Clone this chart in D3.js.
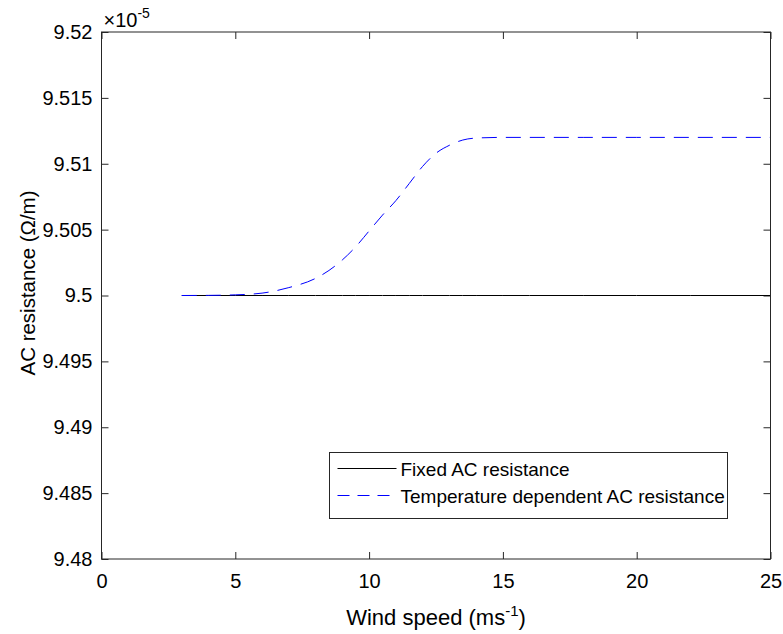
<!DOCTYPE html>
<html>
<head>
<meta charset="UTF-8">
<title></title>
<style>
  body { margin: 0; background: #fff; }
  svg text { font-family: 'Liberation Sans', Arial, Helvetica, sans-serif; fill: #000; }
</style>
</head>
<body>
<div id="container"></div>
<script src="https://d3js.org/d3.v7.min.js"></script>
<script>
// wind speed (m/s)
var windSpeed = [3, 4, 5, 6, 7, 8, 8.5, 9, 9.5, 10, 10.5, 11, 11.5, 12, 12.5, 13, 13.5, 14, 15, 16, 18, 20, 22, 25];
// AC resistance, units of 1e-5 ohm/m
var fixedRes = [9.5, 9.5, 9.5, 9.5, 9.5, 9.5, 9.5, 9.5, 9.5, 9.5, 9.5, 9.5, 9.5, 9.5, 9.5, 9.5, 9.5, 9.5, 9.5, 9.5, 9.5, 9.5, 9.5, 9.5];
var tempRes = [9.5, 9.50001, 9.50005, 9.50018, 9.5006, 9.5013, 9.5019, 9.5027, 9.5037, 9.5049, 9.5061, 9.5072, 9.5085, 9.5098, 9.5108, 9.5114, 9.5118, 9.51195, 9.512, 9.512, 9.512, 9.512, 9.512, 9.512];
var xTicks = [0, 5, 10, 15, 20, 25];
var yTicks = [9.48, 9.485, 9.49, 9.495, 9.5, 9.505, 9.51, 9.515, 9.52];
var legendLabels = ["Fixed AC resistance", "Temperature dependent AC resistance"];

var W = 783, H = 634;
var m = {left: 101.5, right: 12.5, top: 32, bottom: 75};

var svg = d3.select("#container").append("svg")
  .attr("width", W).attr("height", H);

var x = d3.scaleLinear().domain([0, 25]).range([m.left, W - m.right]);
var y = d3.scaleLinear().domain([9.48, 9.52]).range([H - m.bottom, m.top]);

var axisCol = "#262626";
var tickLen = 7;

// bottom / left axes with labels, ticks inward
svg.append("g")
  .attr("transform", "translate(0," + y.range()[0] + ")")
  .call(d3.axisBottom(x).tickValues(xTicks).tickSize(-tickLen).tickPadding(15).tickFormat(d3.format("d")))
  .call(function(g) {
    g.select(".domain").remove();
    g.selectAll("line").attr("stroke", axisCol);
    g.selectAll("text").attr("font-size", 20).attr("fill", "#000");
  });

svg.append("g")
  .attr("transform", "translate(" + x.range()[0] + ",0)")
  .call(d3.axisLeft(y).tickValues(yTicks).tickSize(-tickLen).tickPadding(9).tickFormat(function(d) { return +d.toFixed(3) + ""; }))
  .call(function(g) {
    g.select(".domain").remove();
    g.selectAll("line").attr("stroke", axisCol);
    g.selectAll("text").attr("font-size", 20).attr("fill", "#000");
  });

// mirrored ticks on top and right
svg.append("g")
  .attr("transform", "translate(0," + y.range()[1] + ")")
  .call(d3.axisTop(x).tickValues(xTicks).tickSize(-tickLen).tickFormat(""))
  .call(function(g) { g.select(".domain").remove(); g.selectAll("line").attr("stroke", axisCol); });

svg.append("g")
  .attr("transform", "translate(" + x.range()[1] + ",0)")
  .call(d3.axisRight(y).tickValues(yTicks).tickSize(-tickLen).tickFormat(""))
  .call(function(g) { g.select(".domain").remove(); g.selectAll("line").attr("stroke", axisCol); });

// lines
var line = function(vals) {
  return d3.line().x(function(d, i) { return x(windSpeed[i]); }).y(function(d) { return y(d); }).curve(d3.curveMonotoneX)(vals);
};

svg.append("path")
  .attr("d", line(fixedRes))
  .attr("fill", "none").attr("stroke", "#000").attr("stroke-width", 1);

svg.append("path")
  .attr("d", line(tempRes))
  .attr("fill", "none").attr("stroke", "#0000ff").attr("stroke-width", 1)
  .attr("stroke-dasharray", "15,9");

// box
svg.append("rect")
  .attr("x", x.range()[0]).attr("y", y.range()[1])
  .attr("width", x.range()[1] - x.range()[0])
  .attr("height", y.range()[0] - y.range()[1])
  .attr("fill", "none").attr("stroke", axisCol).attr("stroke-width", 1);

// exponent label
var expo = svg.append("text")
  .attr("x", x.range()[0] + 2).attr("y", 27)
  .attr("font-size", 20);
expo.append("tspan").text("\u00d710");
expo.append("tspan").attr("font-size", 14).attr("dy", -9).text("-5");

// axis labels
var xl = svg.append("text")
  .attr("x", (x.range()[0] + x.range()[1]) / 2).attr("y", 625)
  .attr("text-anchor", "middle").attr("font-size", 22);
xl.append("tspan").text("Wind speed (ms");
xl.append("tspan").attr("font-size", 15).attr("dy", -9).text("-1");
xl.append("tspan").attr("dy", 9).text(")");

svg.append("text")
  .attr("transform", "translate(35,283) rotate(-90)")
  .attr("text-anchor", "middle").attr("font-size", 20.5)
  .text("AC resistance (\u03a9/m)");

// legend
var lg = svg.append("g").attr("transform", "translate(329.5,452.5)");
lg.append("rect").attr("width", 398).attr("height", 66)
  .attr("fill", "#fff").attr("stroke", axisCol).attr("stroke-width", 1);

var legStyles = [{c: "#000", dash: null}, {c: "#0000ff", dash: "12,8"}];
legendLabels.forEach(function(lab, i) {
  var yy = 16 + i * 27;
  lg.append("line").attr("x1", 8).attr("x2", 67).attr("y1", yy).attr("y2", yy)
    .attr("stroke", legStyles[i].c).attr("stroke-width", 1)
    .attr("stroke-dasharray", legStyles[i].dash);
  lg.append("text").attr("x", 71).attr("y", yy + 7).attr("font-size", 19).text(lab);
});
</script>
</body>
</html>
